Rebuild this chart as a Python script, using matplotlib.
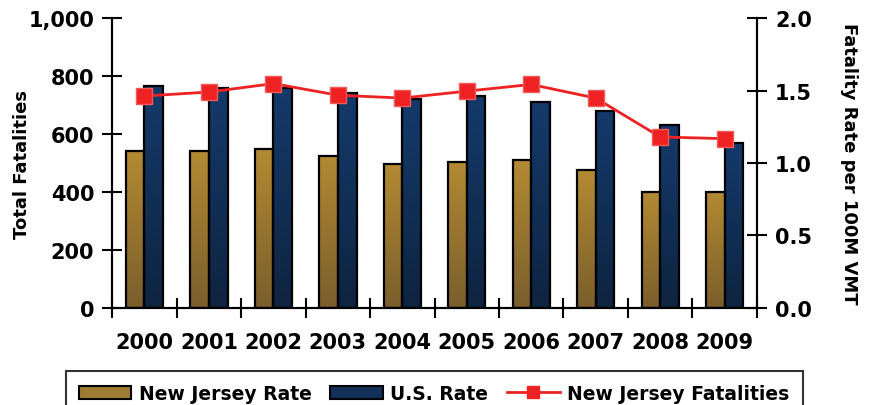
import numpy as np
import matplotlib.pyplot as plt
from matplotlib.colors import LinearSegmentedColormap
from matplotlib.patches import Patch
from matplotlib.lines import Line2D

years = ['2000', '2001', '2002', '2003', '2004', '2005', '2006', '2007', '2008', '2009']
nj_rate = [1.08, 1.08, 1.10, 1.05, 0.99, 1.01, 1.02, 0.95, 0.80, 0.80]
us_rate = [1.53, 1.52, 1.52, 1.48, 1.44, 1.46, 1.42, 1.36, 1.26, 1.14]
nj_fatal = [731, 745, 774, 734, 724, 748, 771, 724, 590, 584]

plt.rcParams['font.family'] = ['DejaVu Sans']
plt.rcParams['font.weight'] = 'bold'

gold_cmap = LinearSegmentedColormap.from_list('gold', ['#7a5e2c', '#b38a33'])
navy_cmap = LinearSegmentedColormap.from_list('navy', ['#0e2440', '#143a6b'])


def gradient_bars(ax, x, h, w, cmap):
    bars = ax.bar(x, h, w, color='none', edgecolor='black', linewidth=1.6, zorder=3)
    grad = np.linspace(0, 1, 100).reshape(-1, 1)
    for b in bars:
        x0, y0 = b.get_x(), b.get_y()
        im = ax.imshow(grad, cmap=cmap, origin='lower', aspect='auto',
                       extent=[x0, x0 + b.get_width(), y0, y0 + b.get_height()], zorder=2)
        im.set_clip_path(b)
    return bars


fig = plt.figure(figsize=(8.7, 4.06), dpi=100)
ax = fig.add_axes([0.129, 0.239, 0.741, 0.714])
ax2 = ax.twinx()

x = np.arange(len(years))
w = 0.29
gradient_bars(ax2, x - w / 2, nj_rate, w, gold_cmap)
gradient_bars(ax2, x + w / 2, us_rate, w, navy_cmap)

ax.plot(x, nj_fatal, color='#ee2222', lw=2, marker='s', markersize=11,
        markerfacecolor='#ee2222', markeredgecolor='#f25a5a', zorder=5)
ax.set_zorder(ax2.get_zorder() + 1)
ax.patch.set_visible(False)

ax.set_xlim(-0.5, len(years) - 0.5)
ax.set_ylim(0, 1000)
ax2.set_ylim(0, 2.0)
ax.set_yticks(range(0, 1001, 200))
ax.set_yticklabels(['0', '200', '400', '600', '800', '1,000'])
ax2.set_yticks([0, 0.5, 1.0, 1.5, 2.0])
ax2.set_yticklabels(['0.0', '0.5', '1.0', '1.5', '2.0'])
ax.set_xticks(np.arange(-0.5, len(years), 1.0), minor=False)
ax.set_xticklabels([])
ax.set_xticks(x, minor=True)
ax.set_xticklabels(years, minor=True)
ax.tick_params(axis='x', which='major', direction='inout', length=14, width=1.5)
ax.tick_params(axis='x', which='minor', length=0, labelsize=15, pad=17)
ax.tick_params(axis='y', direction='inout', length=14, width=1.5, labelsize=15, pad=6)
ax2.tick_params(axis='y', direction='inout', length=14, width=1.5, labelsize=15, pad=6)

for a in (ax, ax2):
    a.spines['top'].set_visible(False)
    for s in ('left', 'right', 'bottom'):
        a.spines[s].set_linewidth(1.5)

ax.set_ylabel('Total Fatalities', fontsize=13, fontweight='bold', labelpad=-2)
ax2.set_ylabel('Fatality Rate per 100M VMT', fontsize=13, fontweight='bold',
               rotation=270, labelpad=33)

handles = [Patch(facecolor='#a07c32', edgecolor='black', linewidth=1.5),
           Patch(facecolor='#12305a', edgecolor='black', linewidth=1.5),
           Line2D([0], [0], color='#ee2222', lw=2, marker='s', markersize=9)]
leg = fig.legend(handles, ['New Jersey Rate', 'U.S. Rate', 'New Jersey Fatalities'],
                 loc='upper center', bbox_to_anchor=(0.499, 0.084), ncol=3,
                 fontsize=13.5, frameon=True, fancybox=False, handlelength=2.8,
                 columnspacing=1.0, handletextpad=0.4, borderpad=0.7,
                 borderaxespad=0)
leg.get_frame().set_edgecolor('black')
leg.get_frame().set_linewidth(1.5)

fig.savefig('out.png', dpi=100)
